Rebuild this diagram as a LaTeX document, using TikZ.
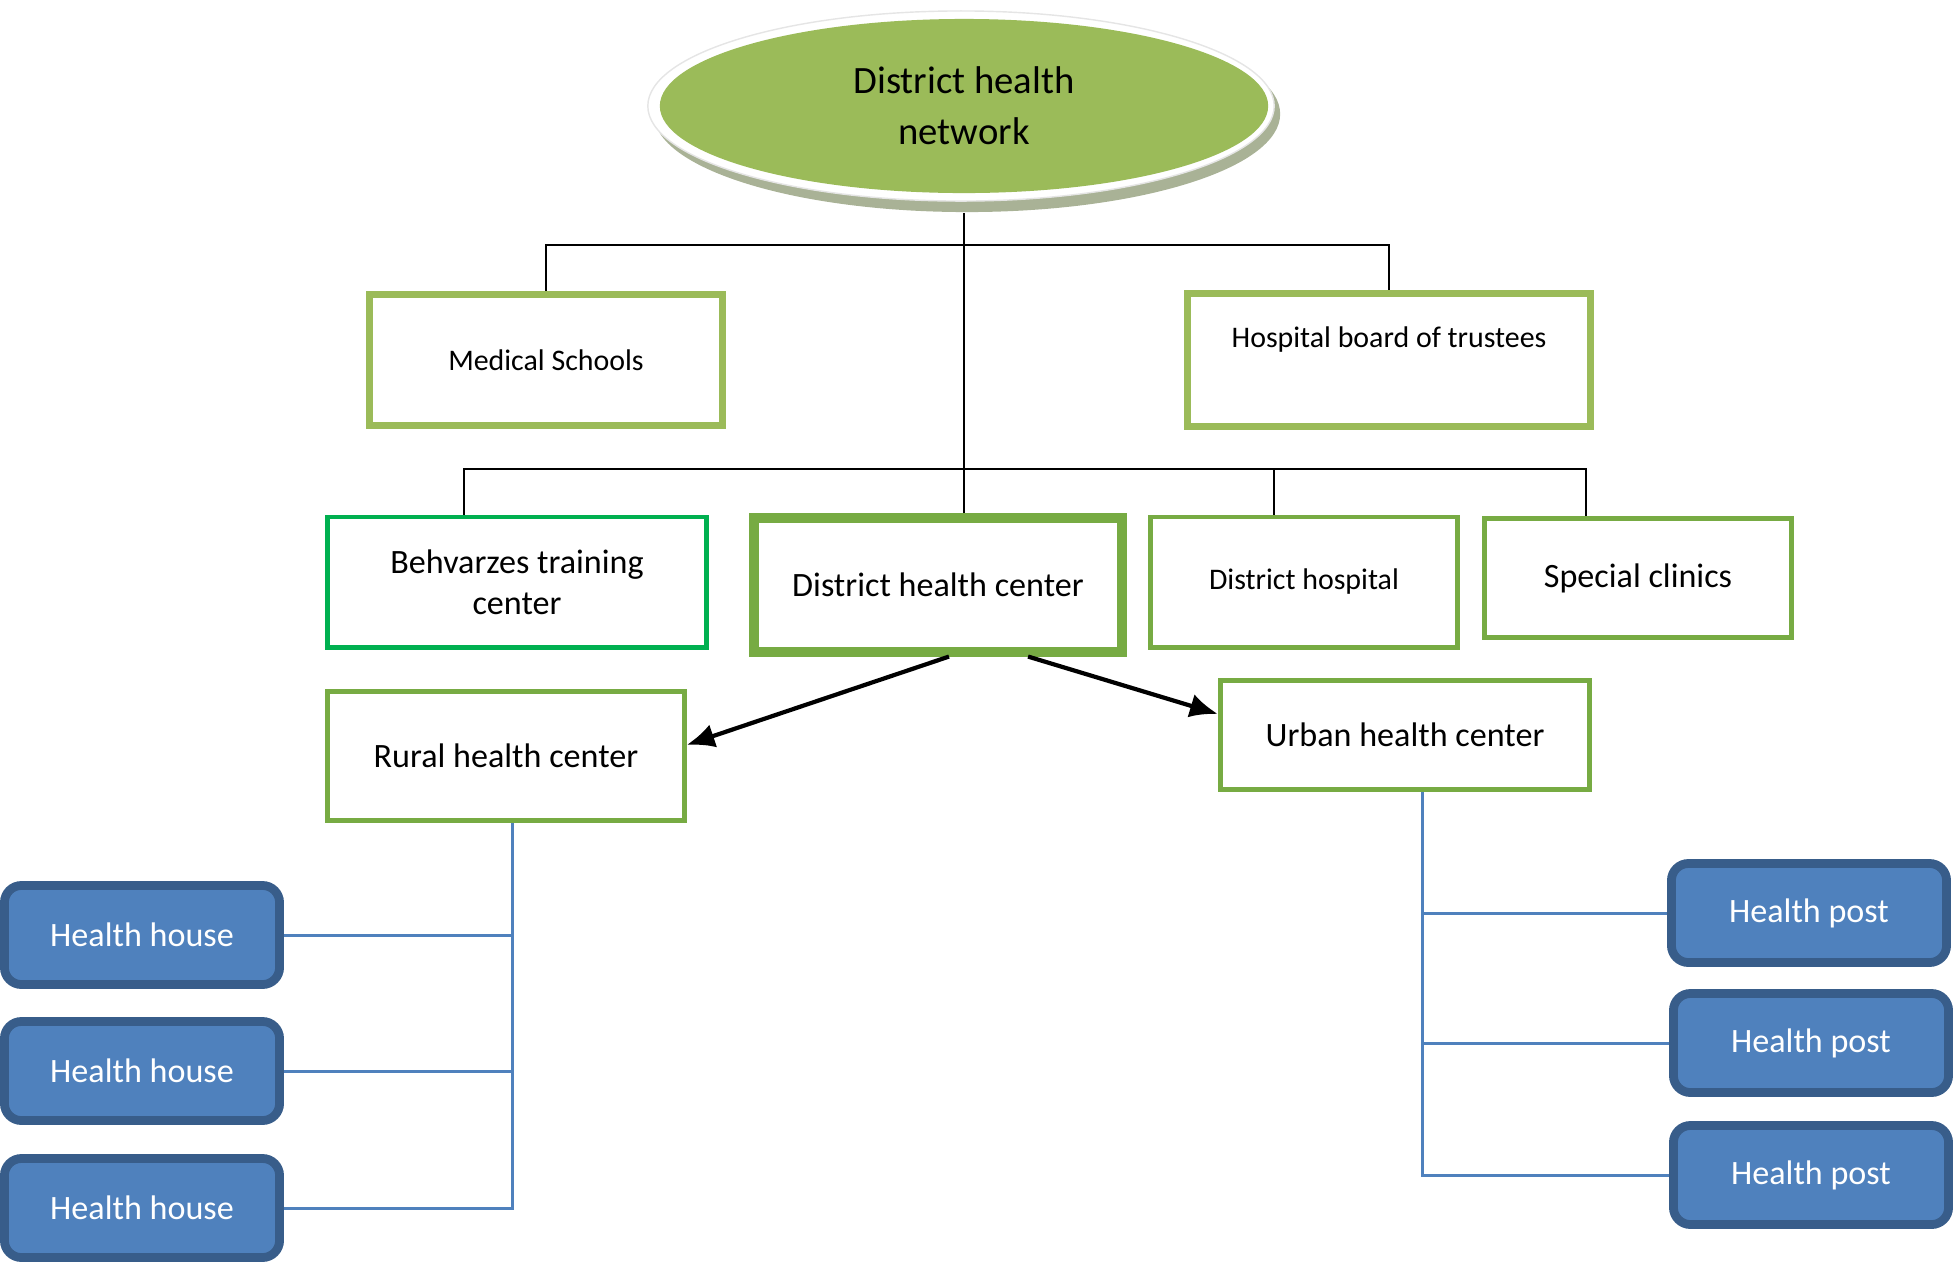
\documentclass[tikz,border=0pt]{standalone}
\usepackage{fontspec}
\setmainfont{Carlito}
\usetikzlibrary{shapes.geometric,arrows.meta}

\definecolor{leafgreen}{HTML}{9BBB59}
\definecolor{boxgreen}{HTML}{77AB43}
\definecolor{brightgreen}{HTML}{00B050}
\definecolor{netshade}{HTML}{A9B296}
\definecolor{postblue}{HTML}{4F81BD}
\definecolor{blueedge}{HTML}{385D8A}

\begin{document}
\begin{tikzpicture}[x=0.01cm, y=-0.01cm,
  >={Latex[length=0.28cm, width=0.24cm]},
  link/.style={black, line width=0.6pt},
  arrowline/.style={->, black, line width=1.2pt},
  branch/.style={draw=postblue, line width=0.85pt},
  unitbox/.style={draw=boxgreen, line width=1.4pt, fill=white, align=center,
    inner sep=0pt, font=\fontsize{9.7}{11.7}\selectfont},
  bluebox/.style={draw=blueedge, fill=postblue, line width=2.5pt,
    rounded corners=0.17cm, minimum width=2.75cm, minimum height=0.99cm,
    text=white, font=\fontsize{9.7}{11.7}\selectfont}]
\useasboundingbox (0,0) rectangle (1954,1263);

% Network ellipse with rim and shadow
\fill[netshade] (967,114) ellipse [x radius=3.13cm, y radius=0.98cm];
\filldraw[fill=white, draw=gray!20] (961,106) ellipse [x radius=3.13cm, y radius=0.95cm];
\node[ellipse, fill=leafgreen, minimum width=6.08cm, minimum height=1.74cm,
  inner sep=0pt, align=center, font=\fontsize{11}{14.5}\selectfont]
  (net) at (964,106) {District health\\network};

% Upper tier
\node[unitbox, draw=leafgreen, line width=2pt, minimum width=3.53cm, minimum height=1.31cm,
  font=\fontsize{8.5}{10.5}\selectfont] (medical) at (546,360) {Medical Schools};
\node[unitbox, draw=leafgreen, line width=2pt, minimum width=4.02cm, minimum height=1.33cm,
  text depth=13pt, font=\fontsize{8.5}{10.5}\selectfont] (trustees) at (1389,360) {Hospital board of trustees};

% Middle tier
\node[unitbox, draw=brightgreen, minimum width=3.79cm, minimum height=1.30cm]
  (behvarzes) at (517,582) {Behvarzes training\\center};
\node[unitbox, line width=2.85pt, minimum width=3.68cm, minimum height=1.33cm]
  (dhc) at (938,585) {District health center};
\node[unitbox, minimum width=3.06cm, minimum height=1.30cm,
  font=\fontsize{8.5}{10.5}\selectfont] (hospital) at (1304,582) {District hospital};
\node[unitbox, minimum width=3.06cm, minimum height=1.19cm]
  (clinics) at (1638,578) {Special clinics};

% Health centers
\node[unitbox, minimum width=3.56cm, minimum height=1.29cm] (rural) at (506,756) {Rural health center};
\node[unitbox, minimum width=3.69cm, minimum height=1.09cm] (urban) at (1405,735) {Urban health center};

% Health houses and posts
\node[bluebox] (house1) at (142,935) {Health house};
\node[bluebox] (house2) at (142,1071) {Health house};
\node[bluebox] (house3) at (142,1208) {Health house};
\node[bluebox] (post1) at (1809,913) {Health post};
\node[bluebox] (post2) at (1811,1043) {Health post};
\node[bluebox] (post3) at (1811,1175) {Health post};

% Tree lines
\coordinate (tier1) at (962,245);
\coordinate (tier2) at (962,469);
\draw[link] ([yshift=-0.19cm]net.south) -- (net.south |- dhc.north);
\draw[link] (medical.north) |- (tier1) -| (trustees.north);
\draw[link] ([xshift=-0.53cm]behvarzes.north) |- (tier2) -| ([xshift=-0.52cm]clinics.north);
\draw[link] ([xshift=-0.30cm]hospital.north) -- ([xshift=-0.30cm]hospital.north |- tier2);

% Arrows to the centers
\draw[arrowline] ([xshift=0.11cm]dhc.south) -- ([yshift=0.11cm]rural.east);
\draw[arrowline] ([xshift=0.90cm]dhc.south) -- ([yshift=0.21cm]urban.west);

% Branches
\coordinate (ruraltrunk) at ([xshift=0.06cm]rural.south);
\coordinate (urbantrunk) at ([xshift=0.17cm]urban.south);
\draw[branch] (ruraltrunk) |- (house3.east);
\draw[branch] (house1.east) -- (house1.east -| ruraltrunk);
\draw[branch] (house2.east) -- (house2.east -| ruraltrunk);
\draw[branch] (urbantrunk) |- (post3.west);
\draw[branch] (post1.west) -- (post1.west -| urbantrunk);
\draw[branch] (post2.west) -- (post2.west -| urbantrunk);
\end{tikzpicture}
\end{document}
